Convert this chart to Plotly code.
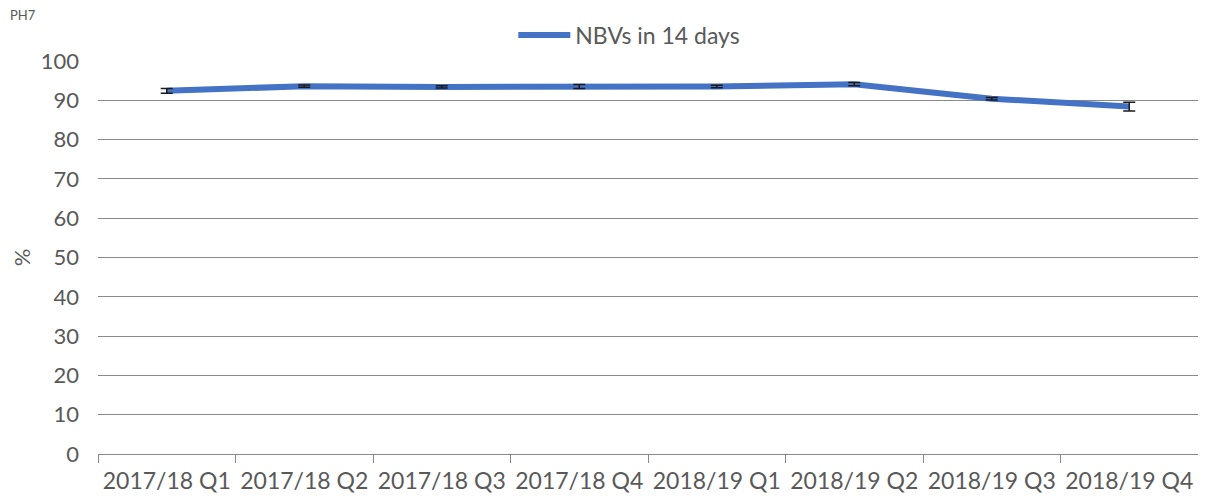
import plotly.graph_objects as go

categories = ["2017/18 Q1", "2017/18 Q2", "2017/18 Q3", "2017/18 Q4",
              "2018/19 Q1", "2018/19 Q2", "2018/19 Q3", "2018/19 Q4"]
values = [92.4, 93.6, 93.4, 93.5, 93.5, 94.1, 90.4, 88.4]
errors = [0.6, 0.3, 0.3, 0.5, 0.3, 0.4, 0.3, 1.1]
series_name = "NBVs in 14 days"

FONT = "Lato"
GREY = "#595959"

fig = go.Figure()
fig.add_trace(go.Scatter(
    x=categories, y=values, mode="lines", name=series_name,
    line=dict(color="#4472C4", width=6),
))
# error bars drawn above the line
fig.add_trace(go.Scatter(
    x=categories, y=values, mode="markers", showlegend=False, hoverinfo="skip",
    marker=dict(size=1, opacity=0),
    error_y=dict(type="data", array=errors, visible=True,
                 color="#1a1a1a", thickness=1.5, width=6),
))

fig.update_layout(
    width=1190, height=488,
    margin=dict(l=90, r=0, t=53, b=42, autoexpand=False),
    paper_bgcolor="white", plot_bgcolor="white",
    font=dict(family=FONT, color=GREY),
    showlegend=True,
    legend=dict(orientation="h", x=0.483, xanchor="center", y=1.066, yanchor="middle",
                yref="paper", font=dict(size=23, color=GREY, family=FONT),
                itemwidth=52, bgcolor="rgba(0,0,0,0)"),
    xaxis=dict(type="category", range=[-0.5, 7.5], tickson="boundaries",
               ticks="outside", ticklen=8, tickcolor="#898989",
               showline=True, linecolor="#898989", linewidth=1,
               showgrid=False, tickfont=dict(size=23, color=GREY, family=FONT),
               ticklabelstandoff=6, automargin=False),
    yaxis=dict(range=[0, 100], dtick=10, showgrid=True, gridcolor="#898989",
               gridwidth=1, zeroline=False, showline=False, ticks="",
               tickfont=dict(size=22, color=GREY, family=FONT),
               ticklabelstandoff=18, automargin=False,
               title=dict(text="%", font=dict(size=22, color=GREY, family=FONT),
                          standoff=22)),
    annotations=[dict(text="PH7", xref="paper", yref="paper", x=-0.0818, y=1.0,
                      xanchor="left", yanchor="middle", showarrow=False,
                      font=dict(size=13, color=GREY, family=FONT),
                      yshift=46)],
)

fig.write_html("out.html")
